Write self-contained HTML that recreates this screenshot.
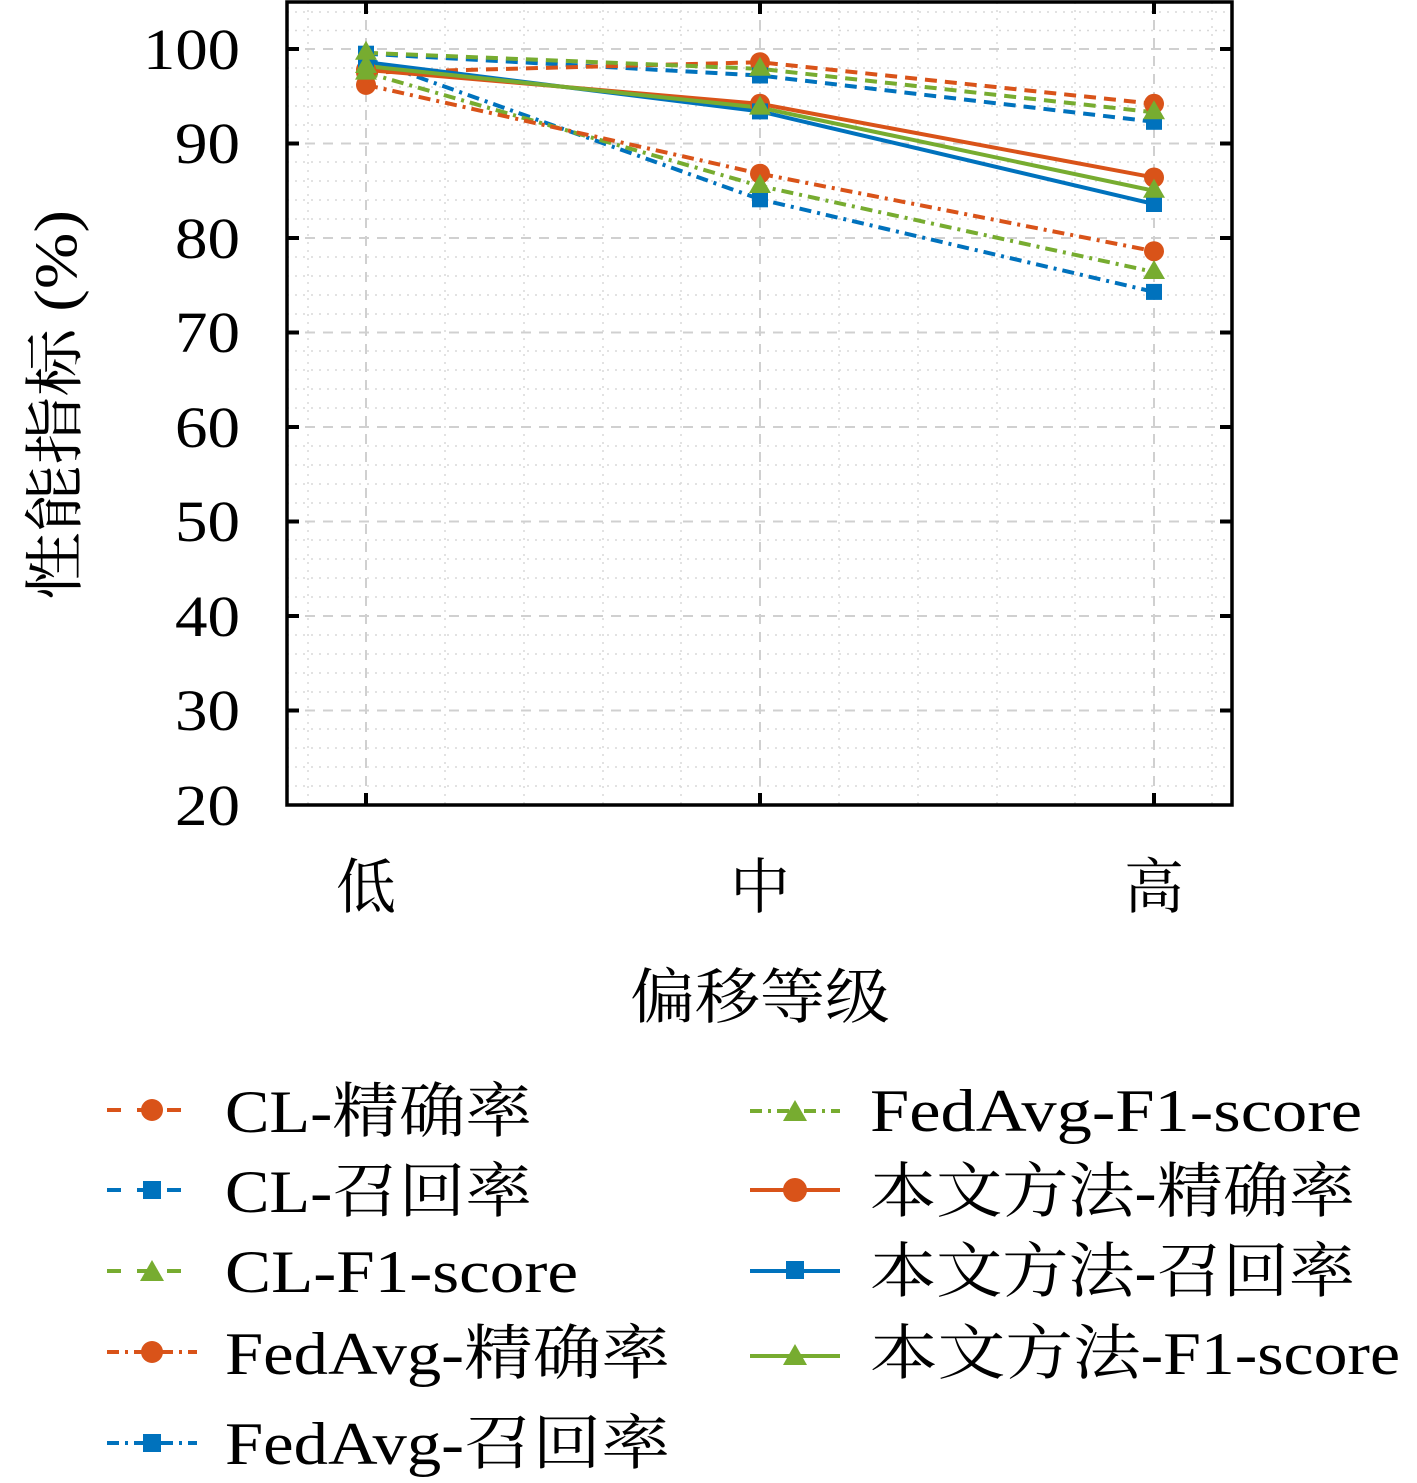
<!DOCTYPE html>
<html><head><meta charset="utf-8"><style>
html,body{margin:0;padding:0;background:#fff;}
svg{display:block;}
text{font-family:"Liberation Serif","Noto Serif CJK SC",serif;fill:#000;}
</style></head><body>
<svg width="1417" height="1483" viewBox="0 0 1417 1483" xmlns="http://www.w3.org/2000/svg">
<!-- minor grid -->
<g stroke="#d8d8d8" stroke-width="1.5" stroke-dasharray="2,6">
<line x1="287" x2="1232" y1="12" y2="12"/><line x1="287" x2="1232" y1="30.5" y2="30.5"/>
<line x1="287" x2="1232" y1="68" y2="68"/><line x1="287" x2="1232" y1="87" y2="87"/><line x1="287" x2="1232" y1="106" y2="106"/><line x1="287" x2="1232" y1="125" y2="125"/>
<line x1="287" x2="1232" y1="162" y2="162"/><line x1="287" x2="1232" y1="181" y2="181"/><line x1="287" x2="1232" y1="200" y2="200"/><line x1="287" x2="1232" y1="219" y2="219"/>
<line x1="287" x2="1232" y1="257" y2="257"/><line x1="287" x2="1232" y1="276" y2="276"/><line x1="287" x2="1232" y1="295" y2="295"/><line x1="287" x2="1232" y1="314" y2="314"/>
<line x1="287" x2="1232" y1="351" y2="351"/><line x1="287" x2="1232" y1="370" y2="370"/><line x1="287" x2="1232" y1="389" y2="389"/><line x1="287" x2="1232" y1="408" y2="408"/>
<line x1="287" x2="1232" y1="446" y2="446"/><line x1="287" x2="1232" y1="465" y2="465"/><line x1="287" x2="1232" y1="484" y2="484"/><line x1="287" x2="1232" y1="503" y2="503"/>
<line x1="287" x2="1232" y1="540" y2="540"/><line x1="287" x2="1232" y1="559" y2="559"/><line x1="287" x2="1232" y1="578" y2="578"/><line x1="287" x2="1232" y1="597" y2="597"/>
<line x1="287" x2="1232" y1="635" y2="635"/><line x1="287" x2="1232" y1="654" y2="654"/><line x1="287" x2="1232" y1="673" y2="673"/><line x1="287" x2="1232" y1="692" y2="692"/>
<line x1="287" x2="1232" y1="729" y2="729"/><line x1="287" x2="1232" y1="748" y2="748"/><line x1="287" x2="1232" y1="767" y2="767"/><line x1="287" x2="1232" y1="786" y2="786"/>
<line y1="2" y2="805" x1="445" x2="445"/><line y1="2" y2="805" x1="524" x2="524"/><line y1="2" y2="805" x1="603" x2="603"/><line y1="2" y2="805" x1="681" x2="681"/>
<line y1="2" y2="805" x1="839" x2="839"/><line y1="2" y2="805" x1="918" x2="918"/><line y1="2" y2="805" x1="997" x2="997"/><line y1="2" y2="805" x1="1075" x2="1075"/>
<line y1="2" y2="805" x1="308" x2="308"/><line y1="2" y2="805" x1="1212" x2="1212"/>
</g>
<!-- major grid -->
<g stroke="#d0d0d0" stroke-width="2" stroke-dasharray="10,8">
<line x1="287" x2="1232" y1="49" y2="49"/><line x1="287" x2="1232" y1="143.5" y2="143.5"/><line x1="287" x2="1232" y1="238" y2="238"/><line x1="287" x2="1232" y1="332.5" y2="332.5"/>
<line x1="287" x2="1232" y1="427" y2="427"/><line x1="287" x2="1232" y1="521.5" y2="521.5"/><line x1="287" x2="1232" y1="616" y2="616"/><line x1="287" x2="1232" y1="710.5" y2="710.5"/>
<line y1="2" y2="805" x1="366" x2="366"/><line y1="2" y2="805" x1="760" x2="760"/><line y1="2" y2="805" x1="1154" x2="1154"/>
</g>
<!-- series -->
<g fill="none" stroke-width="4">
<polyline stroke="#0072BD" stroke-dasharray="12,6,3,6" points="366,58.5 760,199.3 1154,291.9"/>
<polyline stroke="#77AC30" stroke-dasharray="12,6,3,6" points="366,72.6 760,186 1154,272"/>
<polyline stroke="#D95319" stroke-dasharray="12,6,3,6" points="366,84.9 760,173.7 1154,251.2"/>
<polyline stroke="#0072BD" stroke-dasharray="12,8" points="366,53.7 760,75.5 1154,121.8"/>
<polyline stroke="#D95319" stroke-dasharray="12,8" points="366,72.6 760,62.2 1154,103.8"/>
<polyline stroke="#77AC30" stroke-dasharray="12,8" points="366,52.8 760,68.8 1154,112.3"/>
<polyline stroke="#0072BD" points="366,62.2 760,111.4 1154,204"/>
<polyline stroke="#D95319" points="366,69.8 760,103.8 1154,177.5"/>
<polyline stroke="#77AC30" points="366,66 760,107.6 1154,190.8"/>
</g>
<g fill="#D95319"><circle cx="366" cy="84.9" r="10"/><circle cx="760" cy="173.7" r="10"/><circle cx="1154" cy="251.2" r="10"/>
<circle cx="366" cy="72.6" r="10"/><circle cx="760" cy="62.2" r="10"/><circle cx="1154" cy="103.8" r="10"/>
<circle cx="366" cy="69.8" r="10"/><circle cx="760" cy="103.8" r="10"/><circle cx="1154" cy="177.5" r="10"/></g>
<g fill="#0072BD"><rect x="358" y="50.5" width="16" height="16"/><rect x="752" y="191.3" width="16" height="16"/><rect x="1146" y="283.9" width="16" height="16"/>
<rect x="358" y="45.7" width="16" height="16"/><rect x="752" y="67.5" width="16" height="16"/><rect x="1146" y="113.8" width="16" height="16"/>
<rect x="358" y="54.2" width="16" height="16"/><rect x="752" y="103.4" width="16" height="16"/><rect x="1146" y="196" width="16" height="16"/></g>
<g fill="#77AC30">
<polygon points="366,60.6 377,79.6 355,79.6"/><polygon points="760,174 771,193 749,193"/><polygon points="1154,260 1165,279 1143,279"/>
<polygon points="366,40.8 377,59.8 355,59.8"/><polygon points="760,56.8 771,75.8 749,75.8"/><polygon points="1154,100.3 1165,119.3 1143,119.3"/>
<polygon points="366,54 377,73 355,73"/><polygon points="760,95.6 771,114.6 749,114.6"/><polygon points="1154,178.8 1165,197.8 1143,197.8"/>
</g>
<!-- axes -->
<rect x="287" y="2" width="945" height="803" fill="none" stroke="#000" stroke-width="3.5"/>
<g stroke="#000" stroke-width="4">
<line x1="287" x2="299" y1="49" y2="49"/><line x1="287" x2="299" y1="143.5" y2="143.5"/><line x1="287" x2="299" y1="238" y2="238"/><line x1="287" x2="299" y1="332.5" y2="332.5"/><line x1="287" x2="299" y1="427" y2="427"/><line x1="287" x2="299" y1="521.5" y2="521.5"/><line x1="287" x2="299" y1="616" y2="616"/><line x1="287" x2="299" y1="710.5" y2="710.5"/>
<line x1="1220" x2="1232" y1="49" y2="49"/><line x1="1220" x2="1232" y1="143.5" y2="143.5"/><line x1="1220" x2="1232" y1="238" y2="238"/><line x1="1220" x2="1232" y1="332.5" y2="332.5"/><line x1="1220" x2="1232" y1="427" y2="427"/><line x1="1220" x2="1232" y1="521.5" y2="521.5"/><line x1="1220" x2="1232" y1="616" y2="616"/><line x1="1220" x2="1232" y1="710.5" y2="710.5"/>
<line x1="366" x2="366" y1="2" y2="14"/><line x1="760" x2="760" y1="2" y2="14"/><line x1="1154" x2="1154" y1="2" y2="14"/>
<line x1="366" x2="366" y1="793" y2="805"/><line x1="760" x2="760" y1="793" y2="805"/><line x1="1154" x2="1154" y1="793" y2="805"/>
</g>
<g font-size="58" lengthAdjust="spacingAndGlyphs">
<text x="143" y="69" textLength="97" lengthAdjust="spacingAndGlyphs">100</text>
<text x="175" y="163" textLength="65" lengthAdjust="spacingAndGlyphs">90</text>
<text x="175" y="258" textLength="65" lengthAdjust="spacingAndGlyphs">80</text>
<text x="175" y="352" textLength="65" lengthAdjust="spacingAndGlyphs">70</text>
<text x="175" y="447" textLength="65" lengthAdjust="spacingAndGlyphs">60</text>
<text x="175" y="541" textLength="65" lengthAdjust="spacingAndGlyphs">50</text>
<text x="175" y="636" textLength="65" lengthAdjust="spacingAndGlyphs">40</text>
<text x="175" y="730" textLength="65" lengthAdjust="spacingAndGlyphs">30</text>
<text x="175" y="825" textLength="65" lengthAdjust="spacingAndGlyphs">20</text>
</g>
<g font-size="60">
<text x="336" y="908" textLength="60" lengthAdjust="spacingAndGlyphs">低</text>
<text x="730" y="908" textLength="60" lengthAdjust="spacingAndGlyphs">中</text>
<text x="1124" y="908" textLength="60" lengthAdjust="spacingAndGlyphs">高</text>
<text x="630" y="1018" textLength="260" lengthAdjust="spacingAndGlyphs">偏移等级</text>
<text transform="translate(76,600) rotate(-90)" textLength="390" lengthAdjust="spacingAndGlyphs">性能指标 (%)</text>
</g>
<!-- legend -->
<g stroke-width="4" fill="none">
<line x1="107" x2="185" y1="1110" y2="1110" stroke="#D95319" stroke-dasharray="14,16"/>
<line x1="107" x2="185" y1="1190" y2="1190" stroke="#0072BD" stroke-dasharray="14,16"/>
<line x1="107" x2="185" y1="1271" y2="1271" stroke="#77AC30" stroke-dasharray="14,16"/>
<line x1="107" x2="197" y1="1352" y2="1352" stroke="#D95319" stroke-dasharray="12,6,3,6"/>
<line x1="107" x2="197" y1="1443" y2="1443" stroke="#0072BD" stroke-dasharray="12,6,3,6"/>
<line x1="750" x2="840" y1="1111" y2="1111" stroke="#77AC30" stroke-dasharray="12,6,3,6"/>
<line x1="750" x2="840" y1="1190" y2="1190" stroke="#D95319"/>
<line x1="750" x2="840" y1="1271" y2="1271" stroke="#0072BD"/>
<line x1="750" x2="840" y1="1356" y2="1356" stroke="#77AC30"/>
</g>
<circle cx="152" cy="1110" r="11" fill="#D95319"/>
<rect x="143" y="1181" width="18" height="18" fill="#0072BD"/>
<polygon points="152,1260 164,1281 140,1281" fill="#77AC30"/>
<circle cx="152" cy="1352" r="11" fill="#D95319"/>
<rect x="143" y="1434" width="18" height="18" fill="#0072BD"/>
<polygon points="795,1100 807,1121 783,1121" fill="#77AC30"/>
<circle cx="795" cy="1190" r="12" fill="#D95319"/>
<rect x="786" y="1261" width="18" height="18" fill="#0072BD"/>
<polygon points="795,1344 807,1365 783,1365" fill="#77AC30"/>
<g font-size="60">
<text x="225" y="1132" textLength="307" lengthAdjust="spacingAndGlyphs">CL-精确率</text>
<text x="225" y="1212" textLength="307" lengthAdjust="spacingAndGlyphs">CL-召回率</text>
<text x="225" y="1292" textLength="353" lengthAdjust="spacingAndGlyphs">CL-F1-score</text>
<text x="225" y="1374" textLength="445" lengthAdjust="spacingAndGlyphs">FedAvg-精确率</text>
<text x="225" y="1464" textLength="445" lengthAdjust="spacingAndGlyphs">FedAvg-召回率</text>
<text x="870" y="1131" textLength="492" lengthAdjust="spacingAndGlyphs">FedAvg-F1-score</text>
<text x="870" y="1212" textLength="485" lengthAdjust="spacingAndGlyphs">本文方法-精确率</text>
<text x="870" y="1292" textLength="485" lengthAdjust="spacingAndGlyphs">本文方法-召回率</text>
<text x="870" y="1374" textLength="530" lengthAdjust="spacingAndGlyphs">本文方法-F1-score</text>
</g>
</svg>
</body></html>
